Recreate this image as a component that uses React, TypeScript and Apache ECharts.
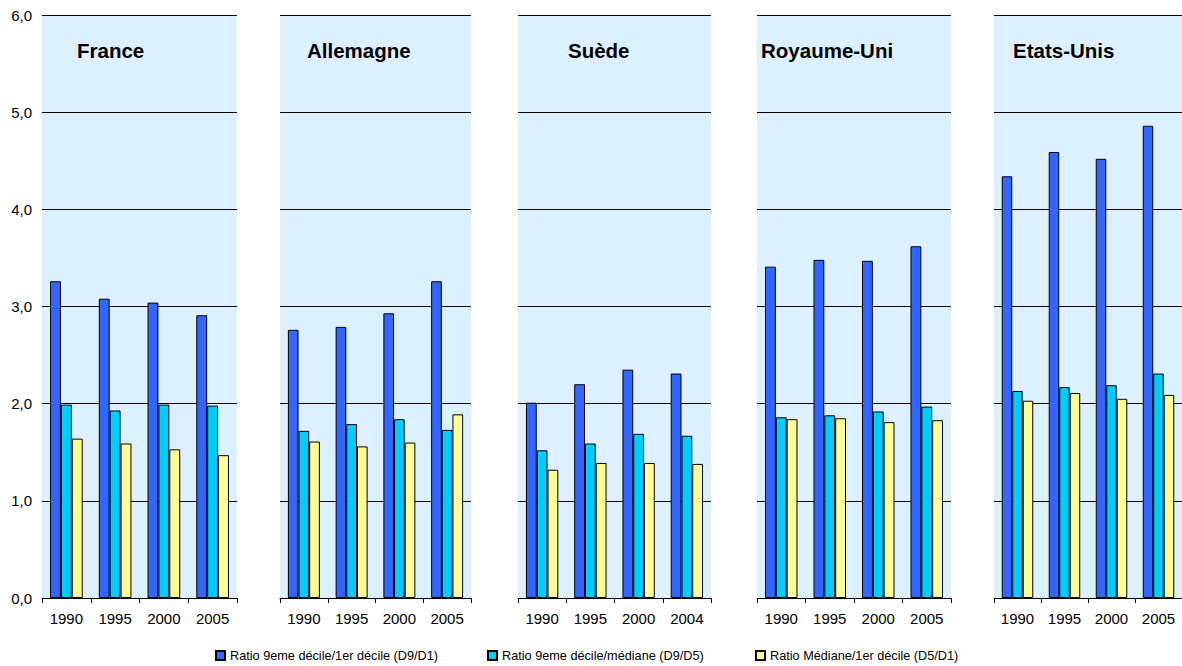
import React, { useEffect, useRef } from "react";
import * as echarts from "echarts";

const countries = ["France", "Allemagne", "Suède", "Royaume-Uni", "Etats-Unis"];
const yearLabels = [
  ["1990", "1995", "2000", "2005"],
  ["1990", "1995", "2000", "2005"],
  ["1990", "1995", "2000", "2004"],
  ["1990", "1995", "2000", "2005"],
  ["1990", "1995", "2000", "2005"],
];
const seriesNames = [
  "Ratio 9eme décile/1er décile (D9/D1)",
  "Ratio 9eme décile/médiane (D9/D5)",
  "Ratio Médiane/1er décile (D5/D1)",
];
// one row per country
const ratioD9D1 = [
  [3.26, 3.08, 3.04, 2.91],
  [2.76, 2.79, 2.93, 3.26],
  [2.01, 2.2, 2.35, 2.31],
  [3.41, 3.48, 3.47, 3.62],
  [4.34, 4.59, 4.52, 4.86],
];
const ratioD9D5 = [
  [1.99, 1.93, 1.99, 1.98],
  [1.72, 1.79, 1.84, 1.73],
  [1.52, 1.59, 1.69, 1.67],
  [1.86, 1.88, 1.92, 1.97],
  [2.13, 2.17, 2.19, 2.31],
];
const ratioD5D1 = [
  [1.64, 1.59, 1.53, 1.47],
  [1.61, 1.56, 1.6, 1.89],
  [1.32, 1.39, 1.39, 1.38],
  [1.84, 1.85, 1.81, 1.83],
  [2.03, 2.11, 2.05, 2.09],
];
const yTicks = [0, 1, 2, 3, 4, 5, 6];

const colors = ["#3366FF", "#00CCFF", "#FFFF99"];
const FONT = "'Liberation Sans', Arial, sans-serif";

const panelLeft = [42, 280, 518, 757, 994];
const panelWidth = [195, 191, 193, 194, 188];
const titleX = [77, 307, 568, 761, 1013];
const legendLeft = [215, 487, 755];

export default function App() {
  const ref = useRef<HTMLDivElement>(null);
  useEffect(() => {
    if (!ref.current) return;
    const chart = echarts.init(ref.current, undefined, { renderer: "svg" });
    const allData = [ratioD9D1, ratioD9D5, ratioD5D1];
    const grids = countries.map((_, i) => ({
      left: panelLeft[i],
      width: panelWidth[i],
      top: 15,
      height: 583,
      show: true,
      backgroundColor: "#DDF0FF",
      borderWidth: 0,
    }));
    const xAxes = countries.map((_, i) => ({
      type: "category",
      gridIndex: i,
      data: yearLabels[i],
      axisLine: { show: true, lineStyle: { color: "#000", width: 1 } },
      axisTick: { show: true, length: 5, lineStyle: { color: "#000" } },
      axisLabel: { color: "#000", fontSize: 15, fontFamily: FONT, margin: 13 },
    }));
    const yAxes = countries.map((_, i) => ({
      type: "value",
      gridIndex: i,
      min: yTicks[0],
      max: yTicks[yTicks.length - 1],
      interval: 1,
      axisLine: { show: false },
      axisTick: { show: false },
      axisLabel: {
        show: i === 0,
        color: "#000",
        fontSize: 15,
        fontFamily: FONT,
        margin: 10,
        formatter: (v: number) => v.toFixed(1).replace(".", ","),
      },
      splitLine: { show: true, lineStyle: { color: "#000", width: 1 } },
    }));
    const series: any[] = [];
    countries.forEach((_, i) => {
      allData.forEach((arr, m) => {
        series.push({
          type: "bar",
          name: seriesNames[m],
          xAxisIndex: i,
          yAxisIndex: i,
          data: arr[i],
          barGap: "0%",
          barCategoryGap: "33%",
          itemStyle: { color: colors[m], borderColor: "#000", borderWidth: 1 },
        });
      });
    });
    const legends = seriesNames.map((n, m) => ({
      data: [n],
      left: legendLeft[m],
      top: 649,
      itemWidth: 9,
      itemHeight: 9,
      itemGap: 0,
      padding: 0,
      icon: "rect",
      selectedMode: false,
      textStyle: { fontSize: 12.7, fontFamily: FONT, color: "#000" },
    }));
    const graphic = countries.map((c, i) => ({
      type: "text",
      left: titleX[i],
      top: 40,
      style: {
        text: c,
        fill: "#000",
        font: `bold 20.5px ${FONT}`,
      },
    }));
    chart.setOption({
      animation: false,
      grid: grids,
      xAxis: xAxes,
      yAxis: yAxes,
      series,
      legend: legends,
      graphic,
    });
    return () => chart.dispose();
  }, []);
  return (
    <div
      ref={ref}
      style={{ position: "fixed", left: 0, top: 0, width: 1182, height: 666, background: "#fff" }}
    />
  );
}
